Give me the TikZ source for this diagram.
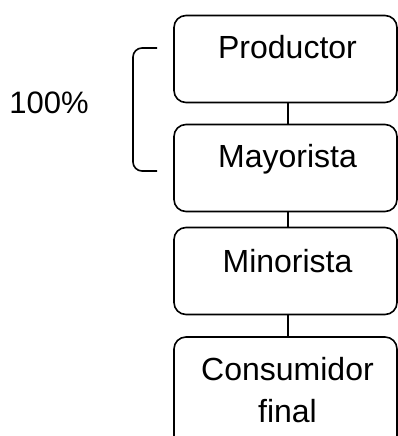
\documentclass[tikz,border=0pt]{standalone}
\usepackage{fontspec}
\setmainfont{Liberation Sans}
\begin{document}
\begin{tikzpicture}[x=1pt,y=-1pt,
  stage/.style={draw,line width=1.6pt,rounded corners=12pt,minimum width=223pt,minimum height=87pt,inner sep=0pt},
  lbl/.style={font=\fontsize{32}{42}\selectfont,anchor=base,align=center},
  link/.style={line width=1.4pt},
  brace/.style={line width=1.6pt,rounded corners=9pt}]
\useasboundingbox (0,0) rectangle (398,436);
\clip (0,0) rectangle (398,436);
\node[stage] (p) at (285.5,59) {};
\node[stage] (ma) at (285.5,168) {};
\node[stage] (mi) at (285.5,271) {};
\node[stage,minimum height=130pt] (c) at (285.5,402) {};
\node[lbl] (tp) at (287.5,59) {Productor};
\node[lbl] (tma) at (287.5,167) {Mayorista};
\node[lbl] (tmi) at (287.5,272) {Minorista};
\node[lbl] (tc) at (287.5,422) {Consumidor\\final};
\node[lbl,font=\fontsize{31}{40}\selectfont] (pct) at (49,113) {100\%};
\draw[link] (288,0 |- p.south) -- (288,0 |- ma.north);
\draw[link] (288,0 |- ma.south) -- (288,0 |- mi.north);
\draw[link] (288,0 |- mi.south) -- (288,0 |- c.north);
\coordinate (b1) at (157,48);
\coordinate (b2) at (157,171);
\draw[brace] (b1) -- (133,48) -- (133,171) -- (b2);
\end{tikzpicture}
\end{document}
